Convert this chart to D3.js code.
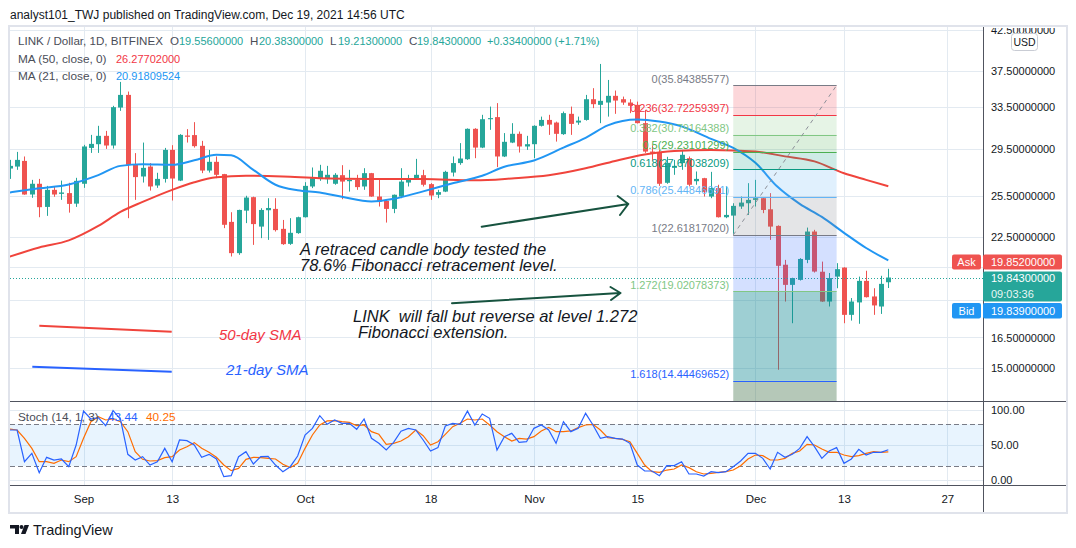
<!DOCTYPE html>
<html>
<head>
<meta charset="utf-8">
<script src="https://cdn.jsdelivr.net/npm/d3@7"></script>
<style>
  html, body { margin: 0; padding: 0; background: #fff; }
  svg { display: block; font-family: "Liberation Sans", Arial, sans-serif; }
</style>
</head>
<body>
<svg id="chart" width="1076" height="548"></svg>
<script>
// daily candles: date, open, high, low, close
const candles = [
  ["2021-08-22",27.75,28.50,26.88,27.98],["2021-08-23",27.92,29.21,27.64,28.50],
  ["2021-08-24",28.41,28.80,25.60,25.62],["2021-08-25",25.62,26.80,25.36,26.48],
  ["2021-08-26",26.48,26.88,23.89,24.64],["2021-08-27",24.66,26.31,23.99,25.99],
  ["2021-08-28",25.99,26.23,25.44,25.62],["2021-08-29",25.67,26.74,25.20,25.78],
  ["2021-08-30",25.73,26.56,24.23,24.89],["2021-08-31",24.91,26.97,24.66,26.72],
  ["2021-09-01",26.48,29.85,26.15,29.70],["2021-09-02",29.57,30.78,29.12,29.94],
  ["2021-09-03",29.91,31.65,29.12,30.69],["2021-09-04",30.69,31.16,29.48,29.79],
  ["2021-09-05",29.79,33.66,29.51,33.52],["2021-09-06",33.48,36.23,33.14,34.81],
  ["2021-09-07",34.81,35.17,23.82,28.07],["2021-09-08",28.13,29.10,25.20,27.03],
  ["2021-09-09",27.08,30.06,26.58,27.81],["2021-09-10",27.92,28.22,25.93,26.26],
  ["2021-09-11",26.34,27.39,26.15,26.88],["2021-09-12",26.88,29.57,26.58,29.39],
  ["2021-09-13",29.39,29.82,25.15,26.91],["2021-09-14",26.74,30.85,26.70,30.78],
  ["2021-09-15",30.72,31.33,30.06,30.60],["2021-09-16",30.76,32.01,29.60,29.73],
  ["2021-09-17",29.76,30.22,27.36,27.58],["2021-09-18",27.58,29.39,27.41,28.33],
  ["2021-09-19",28.33,28.80,26.94,27.22],["2021-09-20",27.28,27.30,23.10,23.34],
  ["2021-09-21",23.55,24.26,21.17,21.39],["2021-09-22",21.39,24.45,21.28,24.43],
  ["2021-09-23",24.38,25.52,23.46,25.38],["2021-09-24",25.41,25.45,21.94,23.39],
  ["2021-09-25",23.21,24.56,22.40,24.43],["2021-09-26",24.41,25.33,22.28,24.58],
  ["2021-09-27",24.51,25.33,22.86,22.96],["2021-09-28",23.05,23.69,21.94,21.99],
  ["2021-09-29",22.01,23.82,21.94,22.77],["2021-09-30",22.75,23.93,22.70,23.89],
  ["2021-10-01",23.89,26.61,23.87,26.31],["2021-10-02",26.26,27.84,26.13,26.94],
  ["2021-10-03",26.88,28.07,26.72,27.56],["2021-10-04",26.86,27.98,26.48,27.22],
  ["2021-10-05",26.48,27.36,26.40,27.22],["2021-10-06",27.19,28.04,25.25,26.66],
  ["2021-10-07",26.69,27.64,25.85,26.80],["2021-10-08",26.80,27.22,25.99,26.21],
  ["2021-10-09",26.26,27.78,25.99,27.36],["2021-10-10",27.36,27.38,25.44,25.46],
  ["2021-10-11",25.46,26.80,24.69,25.07],["2021-10-12",25.12,25.20,23.50,24.51],
  ["2021-10-13",24.51,25.62,24.19,25.60],["2021-10-14",25.46,27.78,25.33,26.66],
  ["2021-10-15",26.58,27.22,26.26,26.86],["2021-10-16",26.86,28.59,26.80,27.22],
  ["2021-10-17",27.19,27.64,26.26,26.40],["2021-10-18",26.45,26.53,25.20,25.54],
  ["2021-10-19",25.60,25.99,25.33,25.81],["2021-10-20",25.85,27.56,25.81,27.47],
  ["2021-10-21",27.41,28.80,27.08,28.22],["2021-10-22",28.22,30.01,28.07,28.62],
  ["2021-10-23",28.56,31.40,28.50,31.36],["2021-10-24",31.36,31.42,28.65,29.60],
  ["2021-10-25",29.60,32.74,29.55,32.30],["2021-10-26",32.30,33.58,31.26,32.41],
  ["2021-10-27",32.51,33.94,27.87,28.80],["2021-10-28",28.80,30.95,28.75,30.13],
  ["2021-10-29",30.06,31.91,30.01,30.88],["2021-10-30",30.88,31.10,29.15,29.70],
  ["2021-10-31",29.70,30.69,29.39,29.91],["2021-11-01",29.91,31.70,28.65,31.65],
  ["2021-11-02",31.65,32.56,31.58,32.23],["2021-11-03",32.23,32.74,30.78,31.77],
  ["2021-11-04",31.97,32.06,30.15,30.88],["2021-11-05",30.85,33.07,30.78,32.91],
  ["2021-11-06",32.84,33.58,30.78,31.84],["2021-11-07",31.97,32.56,31.75,32.16],
  ["2021-11-08",32.23,34.81,32.16,34.35],["2021-11-09",34.35,35.54,33.42,33.83],
  ["2021-11-10",33.76,38.29,31.91,34.18],["2021-11-11",34.00,36.45,32.56,34.71],
  ["2021-11-12",34.71,35.28,32.84,34.21],["2021-11-13",34.35,34.63,33.76,34.00],
  ["2021-11-14",34.00,34.35,32.91,33.66],["2021-11-15",33.76,34.10,31.88,31.91],
  ["2021-11-16",31.91,33.24,29.12,29.24],["2021-11-17",29.24,29.80,28.40,29.12],
  ["2021-11-18",29.15,29.39,26.31,26.48],["2021-11-19",26.56,28.77,26.48,28.24],
  ["2021-11-20",27.81,28.50,27.22,27.98],["2021-11-21",28.22,29.39,27.64,28.95],
  ["2021-11-22",28.65,28.80,26.26,26.40],["2021-11-23",26.69,27.50,26.40,26.88],
  ["2021-11-24",26.94,26.97,25.46,25.83],["2021-11-25",25.46,27.47,25.33,26.13],
  ["2021-11-26",26.13,26.40,23.87,23.89],["2021-11-27",23.89,26.26,23.82,24.06],
  ["2021-11-28",24.01,24.94,22.70,24.74],["2021-11-29",24.69,25.46,24.51,24.99],
  ["2021-11-30",24.94,26.53,24.06,25.20],["2021-12-01",25.20,26.80,24.69,25.33],
  ["2021-12-02",25.33,25.36,24.19,24.43],["2021-12-03",24.48,25.73,22.28,23.21],
  ["2021-12-04",23.26,23.30,14.94,20.57],["2021-12-05",20.64,20.95,18.43,19.40],
  ["2021-12-06",19.40,19.83,17.24,19.81],["2021-12-07",19.70,21.06,19.66,21.01],
  ["2021-12-08",20.95,23.14,20.74,22.86],["2021-12-09",22.86,22.98,20.15,20.21],
  ["2021-12-10",20.20,20.84,18.41,18.43],["2021-12-11",18.43,20.12,18.15,19.81],
  ["2021-12-12",19.90,20.74,19.20,20.36],["2021-12-13",20.46,20.48,17.24,17.69],
  ["2021-12-14",17.69,18.63,17.38,18.43],["2021-12-15",18.38,19.90,17.21,19.64],
  ["2021-12-16",19.64,20.26,18.66,18.68],["2021-12-17",18.72,19.20,17.69,18.21],
  ["2021-12-18",18.15,19.95,17.74,19.46],["2021-12-19",19.556,20.383,19.213,19.843]
];

// moving averages, sampled along the drawn lines
const ma50Pts = [
  ["2021-08-22",21.16],["2021-08-26",21.77],["2021-08-30",22.25],["2021-09-03",23.26],
  ["2021-09-06",24.28],["2021-09-09",25.04],["2021-09-13",25.99],["2021-09-16",26.60],
  ["2021-09-19",27.01],["2021-09-23",27.14],["2021-09-28",27.08],["2021-10-03",26.94],
  ["2021-10-10",26.88],["2021-10-17",26.87],["2021-10-24",26.76],["2021-10-29",26.92],
  ["2021-11-03",27.18],["2021-11-08",27.77],["2021-11-12",28.41],["2021-11-16",28.98],
  ["2021-11-20",29.30],["2021-11-25",29.39],["2021-12-01",29.24],["2021-12-05",28.81],
  ["2021-12-09",28.37],["2021-12-13",27.35],["2021-12-16",26.80],["2021-12-19",26.28]
];
const ma21Pts = [
  ["2021-08-22",25.78],["2021-08-26",26.11],["2021-08-30",26.42],["2021-09-03",27.19],
  ["2021-09-06",27.98],["2021-09-09",28.11],["2021-09-13",28.07],["2021-09-16",28.46],
  ["2021-09-19",28.95],["2021-09-21",28.90],["2021-09-24",27.64],["2021-09-27",26.40],
  ["2021-09-30",25.95],["2021-10-03",25.78],["2021-10-06",25.44],["2021-10-10",25.07],
  ["2021-10-13",25.28],["2021-10-17",25.87],["2021-10-21",26.52],["2021-10-25",27.14],
  ["2021-10-28",27.90],["2021-11-01",28.45],["2021-11-05",29.60],["2021-11-08",30.50],
  ["2021-11-11",31.70],["2021-11-15",32.28],["2021-11-18",32.07],["2021-11-21",31.60],
  ["2021-11-25",30.40],["2021-11-28",29.57],["2021-12-01",28.24],["2021-12-04",26.23],
  ["2021-12-07",24.89],["2021-12-10",23.91],["2021-12-13",22.77],["2021-12-16",21.73],
  ["2021-12-19",20.92]
];

// stochastic (14,1,3), one value per candle
const stochK = [
  71.8,71.8,26.2,38.2,10.4,32.5,28.6,30.1,19.0,50.2,
  99.1,87.6,89.6,78.0,99.6,87.6,36.8,28.6,33.4,21.4,26.2,45.4,26.2,57.4,56.5,
  50.2,32.5,36.8,30.1,4.7,6.1,33.4,40.6,22.9,33.4,33.9,21.4,11.8,19.0,34.4,
  64.6,74.2,92.4,80.0,86.2,81.4,81.4,72.8,87.6,59.8,52.6,43.0,54.1,
  70.0,74.2,71.8,57.4,41.6,46.4,77.6,81.4,80.0,99.0,79.0,94.8,88.6,43.0,62.2,67.0,54.1,55.0,
  74.2,79.0,71.8,52.6,83.8,69.4,74.2,95.8,79.0,59.8,62.2,59.8,58.8,52.6,21.4,
  12.8,12.8,6.1,20.5,20.5,26.2,8.5,8.5,5.6,11.8,10.4,11.8,19.0,27.2,38.2,
  38.2,31.0,15.7,39.7,32.5,36.8,45.4,62.2,47.8,31.0,41.6,46.4,23.8,30.1,44.0,35.8,39.7,39.7,43.44
];
const stochD = [
  73.2,71.8,59.8,45.4,26.2,26.2,23.8,28.6,26.2,33.4,
  59.8,83.8,91.0,86.2,87.6,83.8,69.4,40.6,29.6,27.2,27.7,32.0,33.4,43.0,47.8,
  53.6,45.4,39.7,32.5,21.4,13.3,16.6,29.6,32.5,32.0,31.0,30.1,22.4,17.6,23.8,
  45.4,64.6,79.0,84.8,85.2,83.8,82.8,78.0,79.0,69.4,65.6,51.2,52.6,
  56.0,62.2,71.8,63.6,50.2,55.0,65.6,76.6,81.4,87.6,86.2,87.6,79.0,69.4,62.2,56.0,59.8,58.8,
  62.2,70.4,75.6,69.4,69.4,70.4,75.2,79.0,80.0,71.8,60.8,59.8,58.4,55.0,38.2,
  21.4,11.8,10.9,14.2,15.7,21.4,17.6,11.8,8.5,9.5,10.9,11.8,14.2,20.5,30.1,
  35.8,34.9,28.6,28.6,31.0,38.2,41.6,51.2,50.2,44.5,39.7,39.7,35.8,33.4,34.9,38.2,40.6,39.7,40.25
];

const priceTicks = [42.5, 37.5, 33.5, 29.5, 25.5, 22.5, 20.5, 18.5, 16.5, 15.0];
const priceTicksCovered = [20.5, 18.5];
const stochTicks = [100, 50, 0];
const timeTicks = [
  ["2021-09-01","Sep"],["2021-09-13","13"],["2021-10-01","Oct"],["2021-10-18","18"],
  ["2021-11-01","Nov"],["2021-11-15","15"],["2021-12-01","Dec"],["2021-12-13","13"],["2021-12-27","27"]
];

// fibonacci drawing
const fibRatios = [0, 0.236, 0.382, 0.5, 0.618, 0.786, 1, 1.272, 1.618];
const fibPrices = [35.84385577, 32.72259397, 30.79164388, 29.23101299, 27.67038209,
                   25.44846691, 22.61817020, 19.02078373, 14.44469652];
const fibDates = ["2021-11-28", "2021-12-12"];

const lastBar = { o: "19.55600000", h: "20.38300000", l: "19.21300000", c: "19.84300000", chg: "+0.33400000 (+1.71%)" };
const maLast = { slow: "26.27702000", fast: "20.91809524" };
const quotes = { ask: "19.85200000", last: 19.843, lastText: "19.84300000", bid: "19.83900000", countdown: "09:03:36" };
const stochLast = { k: "43.44", d: "40.25" };

// ---------- layout ----------
const plotL = 10, plotR = 983, plotT = 27, priceB = 401, stochB = 485, frameB = 512, frameR = 1066;
const UP = "#26a69a", DOWN = "#ef5350", GRID = "#e3eaf1", TXT = "#131722", LEG = "#4a4d57";
const fibColors = ["#787b86","#f23645","#81c784","#4caf50","#089981","#64b5f6","#787b86","#81c784","#2962ff"];
const fibFills = ["rgba(242,54,69,0.2)","rgba(129,199,132,0.2)","rgba(76,175,80,0.2)","rgba(8,153,129,0.2)",
                  "rgba(100,181,246,0.2)","rgba(120,123,134,0.2)","rgba(41,98,255,0.2)","rgba(13,135,145,0.4)","rgba(70,117,77,0.4)"];

const parse = d3.utcParse("%Y-%m-%d");
const bars = candles.map((c, i) => ({ date: parse(c[0]), o: c[1], h: c[2], l: c[3], c: c[4], k: stochK[i], d: stochD[i] }));

const x = d3.scaleUtc().domain([parse("2021-08-22"), parse("2021-12-31")]).range([9.7, 976.9]);
const y = d3.scaleLog().domain([13.57, 42.9]).range([priceB, plotT]);
const ys = d3.scaleLinear().domain([0, 100]).range([479.9, 410.4]);
const px = v => Math.round(v) + 0.5;

const svg = d3.select("#chart");
const defs = svg.append("defs");
defs.append("clipPath").attr("id", "clipPrice").append("rect")
  .attr("x", plotL).attr("y", plotT).attr("width", plotR - plotL).attr("height", priceB - plotT);
defs.append("clipPath").attr("id", "clipStoch").append("rect")
  .attr("x", plotL).attr("y", priceB).attr("width", plotR - plotL).attr("height", stochB - priceB);
defs.append("clipPath").attr("id", "clipAxis").append("rect")
  .attr("x", plotR).attr("y", plotT + 1).attr("width", frameR - plotR).attr("height", priceB - plotT - 1);

// header
svg.append("text").attr("x", 10).attr("y", 19).attr("font-size", 12).attr("fill", TXT)
  .text("analyst101_TWJ published on TradingView.com, Dec 19, 2021 14:56 UTC");

// grid
svg.append("g").attr("stroke", GRID).selectAll("line").data(timeTicks).join("line")
  .attr("x1", d => px(x(parse(d[0])))).attr("x2", d => px(x(parse(d[0]))))
  .attr("y1", plotT).attr("y2", stochB);
svg.append("g").attr("stroke", GRID).selectAll("line").data(priceTicks).join("line")
  .attr("x1", plotL).attr("x2", plotR).attr("y1", d => px(y(d))).attr("y2", d => px(y(d)));
svg.append("g").attr("stroke", GRID).selectAll("line").data(stochTicks).join("line")
  .attr("x1", plotL).attr("x2", plotR).attr("y1", d => px(ys(d))).attr("y2", d => px(ys(d)));

// candles
const cg = svg.append("g").attr("clip-path", "url(#clipPrice)");
cg.selectAll("line").data(bars).join("line")
  .attr("x1", d => px(x(d.date))).attr("x2", d => px(x(d.date)))
  .attr("y1", d => y(d.h)).attr("y2", d => y(d.l))
  .attr("stroke", d => d.c >= d.o ? UP : DOWN);
cg.selectAll("rect").data(bars).join("rect")
  .attr("x", d => Math.round(x(d.date)) - 2).attr("width", 5)
  .attr("y", d => y(Math.max(d.o, d.c)))
  .attr("height", d => Math.max(1, Math.abs(y(d.o) - y(d.c))))
  .attr("fill", d => d.c >= d.o ? UP : DOWN);

// moving averages
const maLine = d3.line().x(d => x(parse(d[0]))).y(d => y(d[1])).curve(d3.curveMonotoneX);
cg.append("path").attr("d", maLine(ma50Pts)).attr("fill", "none").attr("stroke", "#f0443c").attr("stroke-width", 2);
cg.append("path").attr("d", maLine(ma21Pts)).attr("fill", "none").attr("stroke", "#2196f3").attr("stroke-width", 2);

// last price dotted line
svg.append("line").attr("x1", plotL).attr("x2", plotR).attr("y1", px(y(quotes.last))).attr("y2", px(y(quotes.last)))
  .attr("stroke", UP).attr("stroke-dasharray", "1,2");

// fibonacci
const fx0 = x(parse(fibDates[0])), fx1 = x(parse(fibDates[1]));
const fg = svg.append("g").attr("clip-path", "url(#clipPrice)");
fg.selectAll("rect").data(fibPrices.slice(1)).join("rect")
  .attr("x", fx0).attr("width", fx1 - fx0)
  .attr("y", (d, i) => y(fibPrices[i]))
  .attr("height", (d, i) => y(d) - y(fibPrices[i]))
  .attr("fill", (d, i) => fibFills[i]);
fg.append("rect").attr("x", fx0).attr("width", fx1 - fx0)
  .attr("y", y(fibPrices[8])).attr("height", priceB - y(fibPrices[8]))
  .attr("fill", fibFills[8]);
fg.selectAll("line").data(fibPrices).join("line")
  .attr("x1", fx0).attr("x2", fx1).attr("y1", d => px(y(d))).attr("y2", d => px(y(d)))
  .attr("stroke", (d, i) => fibColors[i]).attr("stroke-width", 1.2);
fg.append("line").attr("x1", fx0).attr("y1", y(fibPrices[6])).attr("x2", fx1).attr("y2", y(fibPrices[0]))
  .attr("stroke", "#8d9099").attr("stroke-dasharray", "4,4");
fg.selectAll("text").data(fibPrices).join("text")
  .attr("x", fx0 - 4).attr("y", d => y(d) - 2.5).attr("text-anchor", "end")
  .attr("font-size", 11).attr("fill", (d, i) => fibColors[i])
  .text((d, i) => `${fibRatios[i]}(${d.toFixed(8)})`);

// hand-drawn annotations
const ann = svg.append("g").attr("fill", "none").attr("stroke", "#17533f").attr("stroke-width", 2)
  .attr("stroke-linecap", "round").attr("stroke-linejoin", "round");
ann.append("path").attr("d", "M481.7,226.7 L628.3,204 M617.7,196 L628.3,204 L620,215");
ann.append("path").attr("d", "M452,303.3 L620,293 M610.5,287 L620.5,293 L611,300");

const notes = [
  ["A retraced candle body tested the", 300, 254.5],
  ["78.6% Fibonacci retracement level.", 300, 270.5],
  ["LINK  will fall but reverse at level 1.272", 353, 321.5],
  ["Fibonacci extension.", 358, 337.5]
];
svg.append("g").selectAll("text").data(notes).join("text")
  .attr("x", d => d[1]).attr("y", d => d[2]).attr("font-size", 16.5).attr("font-style", "italic")
  .attr("fill", TXT).style("white-space", "pre").text(d => d[0]);

svg.append("line").attr("x1", 39.3).attr("y1", 325.7).attr("x2", 171.7).attr("y2", 331.7)
  .attr("stroke", "#f0443c").attr("stroke-width", 2);
svg.append("line").attr("x1", 32.3).attr("y1", 366.7).attr("x2", 171.7).attr("y2", 371.7)
  .attr("stroke", "#2962ff").attr("stroke-width", 2);
svg.append("text").attr("x", 219).attr("y", 340).attr("font-size", 15).attr("font-style", "italic")
  .attr("fill", "#f23645").text("50-day SMA");
svg.append("text").attr("x", 226).attr("y", 375).attr("font-size", 15).attr("font-style", "italic")
  .attr("fill", "#2962ff").text("21-day SMA");

// stochastic pane
svg.append("rect").attr("x", plotL).attr("width", plotR - plotL)
  .attr("y", ys(80)).attr("height", ys(20) - ys(80)).attr("fill", "rgba(33,150,243,0.1)");
svg.append("g").attr("stroke", "#787b86").attr("stroke-dasharray", "5,3")
  .selectAll("line").data([80, 20]).join("line")
  .attr("x1", plotL).attr("x2", plotR).attr("y1", d => px(ys(d))).attr("y2", d => px(ys(d)));
const sg = svg.append("g").attr("clip-path", "url(#clipStoch)");
sg.append("path").attr("d", d3.line().x(d => x(d.date)).y(d => ys(d.d))(bars))
  .attr("fill", "none").attr("stroke", "#ff6d00").attr("stroke-width", 1.2);
sg.append("path").attr("d", d3.line().x(d => x(d.date)).y(d => ys(d.k))(bars))
  .attr("fill", "none").attr("stroke", "#2962ff").attr("stroke-width", 1.2);

// pane borders and frame
svg.append("g").attr("stroke", "#50535e").selectAll("line")
  .data([[plotL, priceB + 0.5, frameR, priceB + 0.5], [plotL, stochB + 0.5, frameR, stochB + 0.5],
         [plotR + 0.5, plotT, plotR + 0.5, frameB]])
  .join("line").attr("x1", d => d[0]).attr("y1", d => d[1]).attr("x2", d => d[2]).attr("y2", d => d[3]);
svg.append("rect").attr("x", 9).attr("y", 26).attr("width", frameR - 8).attr("height", frameB - 25)
  .attr("fill", "none").attr("stroke", "#e0e3eb").attr("stroke-width", 2);

// axes
const yAxis = svg.append("g").attr("clip-path", "url(#clipAxis)").append("g")
  .attr("transform", `translate(${plotR},0)`)
  .call(d3.axisRight(y).tickValues(priceTicks.filter(t => !priceTicksCovered.includes(t)))
    .tickSize(0).tickPadding(8).tickFormat(d3.format(".8f")));
yAxis.select(".domain").remove();
yAxis.selectAll("text").attr("font-size", 11).attr("fill", TXT).attr("font-family", "Liberation Sans, Arial, sans-serif");

const sAxis = svg.append("g").attr("transform", `translate(${plotR},0)`)
  .call(d3.axisRight(ys).tickValues(stochTicks).tickSize(0).tickPadding(8).tickFormat(d3.format(".2f")));
sAxis.select(".domain").remove();
sAxis.selectAll("text").attr("font-size", 11).attr("fill", TXT).attr("font-family", "Liberation Sans, Arial, sans-serif");

const tickLabel = new Map(timeTicks.map(t => [+parse(t[0]), t[1]]));
const xAxis = svg.append("g").attr("transform", `translate(0,${stochB})`)
  .call(d3.axisBottom(x).tickValues(timeTicks.map(t => parse(t[0]))).tickSize(0).tickPadding(10)
    .tickFormat(d => tickLabel.get(+d)));
xAxis.select(".domain").remove();
xAxis.selectAll("text").attr("font-size", 11.5).attr("fill", TXT).attr("font-family", "Liberation Sans, Arial, sans-serif");

// USD badge
svg.append("rect").attr("x", 1011.5).attr("y", 33.5).attr("width", 26).attr("height", 17).attr("rx", 3)
  .attr("fill", "#fff").attr("stroke", "#c9ccd4");
svg.append("text").attr("x", 1024.5).attr("y", 46).attr("text-anchor", "middle").attr("font-size", 10.5)
  .attr("fill", TXT).text("USD");

// price tags
const tags = [
  { y0: 254.5, h: 15, col: "#ef5350", name: "Ask", val: quotes.ask },
  { y0: 303, h: 15.5, col: "#2196f3", name: "Bid", val: quotes.bid }
];
tags.forEach(t => {
  svg.append("rect").attr("x", 952).attr("y", t.y0).attr("width", 29).attr("height", t.h).attr("rx", 2).attr("fill", t.col);
  svg.append("rect").attr("x", 983).attr("y", t.y0).attr("width", 79).attr("height", t.h).attr("rx", 2).attr("fill", t.col);
  svg.append("text").attr("x", 966.5).attr("y", t.y0 + t.h / 2 + 4).attr("text-anchor", "middle")
    .attr("font-size", 11).attr("fill", "#fff").text(t.name);
  svg.append("text").attr("x", 991).attr("y", t.y0 + t.h / 2 + 4)
    .attr("font-size", 11).attr("fill", "#fff").text(t.val);
});
svg.append("rect").attr("x", 983).attr("y", 271.5).attr("width", 79).attr("height", 30).attr("rx", 2).attr("fill", UP);
svg.append("text").attr("x", 991).attr("y", 282).attr("font-size", 11).attr("fill", "#fff").text(quotes.lastText);
svg.append("text").attr("x", 991).attr("y", 297.5).attr("font-size", 11).attr("fill", "#e8f7f5").text(quotes.countdown);

// legends: [x, baseline, colour, text, size]
const legItems = [
  [18, 45, LEG, "LINK / Dollar, 1D, BITFINEX", 11.6],
  [170, 45, LEG, "O", 11.6], [179, 45, UP, lastBar.o, 11],
  [250, 45, LEG, "H", 11.6], [259, 45, UP, lastBar.h, 11],
  [330, 45, LEG, "L", 11.6], [338, 45, UP, lastBar.l, 11],
  [409, 45, LEG, "C", 11.6], [417, 45, UP, lastBar.c, 11],
  [487, 45, UP, lastBar.chg, 11],
  [18, 63, LEG, "MA (50, close, 0)", 11.8], [116, 63, "#f23645", maLast.slow, 11],
  [18, 80, LEG, "MA (21, close, 0)", 11.8], [116, 80, "#2196f3", maLast.fast, 11],
  [18, 421, LEG, "Stoch (14, 1, 3)", 11.8], [108, 421, "#2962ff", stochLast.k, 11.8], [146, 421, "#ff6d00", stochLast.d, 11.8]
];
svg.append("g").selectAll("text").data(legItems).join("text")
  .attr("x", d => d[0]).attr("y", d => d[1]).attr("fill", d => d[2]).attr("font-size", d => d[4]).text(d => d[3]);

// TradingView logo
const logo = svg.append("g").attr("fill", TXT);
logo.append("path").attr("d", "M10,525 H19 V534 H15 V528.5 H10 Z");
logo.append("circle").attr("cx", 21.5).attr("cy", 527).attr("r", 2);
logo.append("path").attr("d", "M24.5,525 H29 L25.5,534 H21 Z");
svg.append("text").attr("x", 33).attr("y", 535).attr("font-size", 14.5).attr("fill", TXT).text("TradingView");
</script>
</body>
</html>
